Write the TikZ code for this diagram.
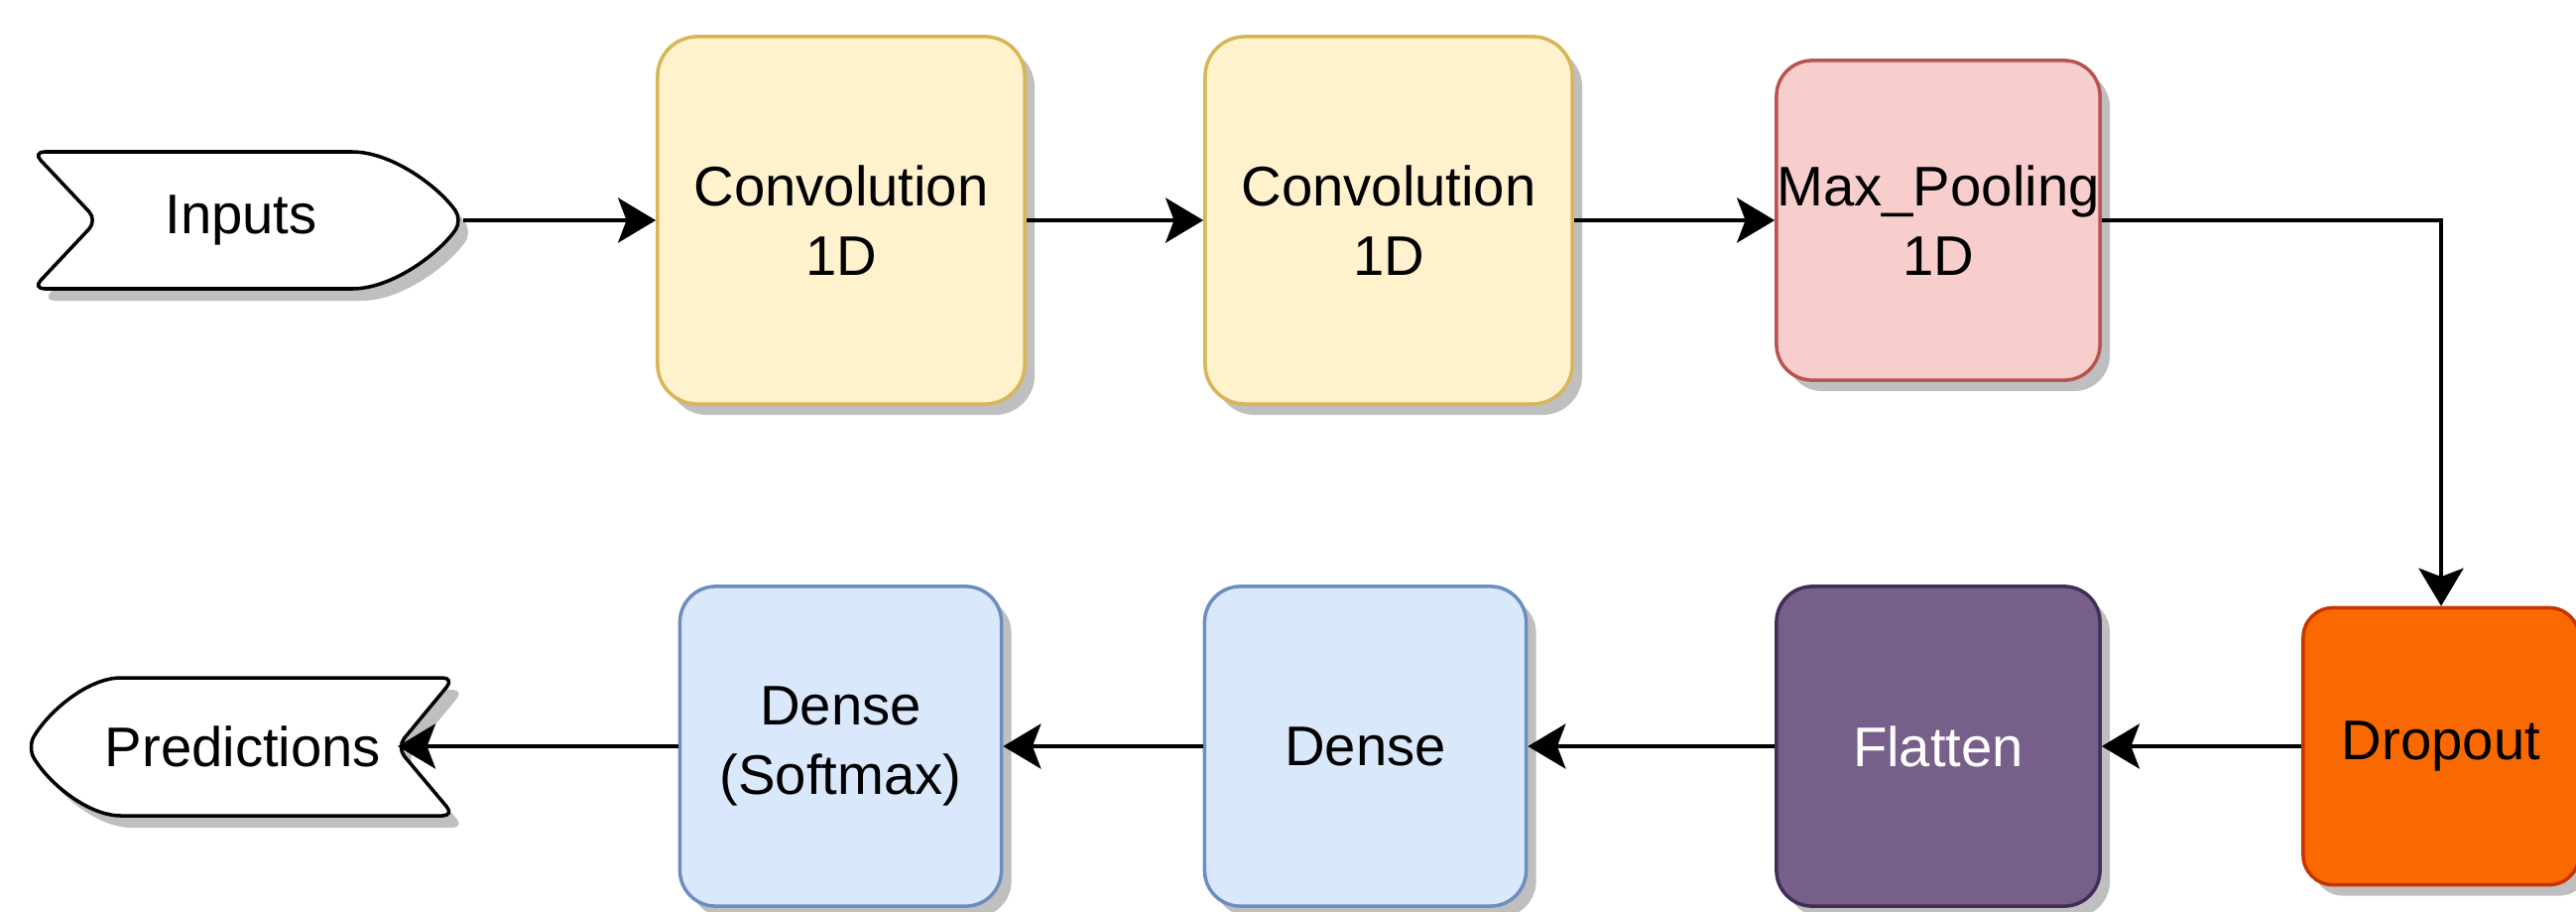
\documentclass[tikz,border=0pt]{standalone}
\usepackage{fontspec}
\setmainfont{Liberation Sans}
\usetikzlibrary{arrows.meta,shadows}
\definecolor{convfill}{HTML}{FFF2CC}
\definecolor{convline}{HTML}{D6B656}
\definecolor{poolfill}{HTML}{F8CECC}
\definecolor{poolline}{HTML}{B85450}
\definecolor{dropfill}{HTML}{FA6800}
\definecolor{dropline}{HTML}{C73500}
\definecolor{flatfill}{HTML}{76608A}
\definecolor{flatline}{HTML}{432D57}
\definecolor{densefill}{HTML}{DAE8FC}
\definecolor{denseline}{HTML}{6C8EBF}
\definecolor{shadowgray}{HTML}{BFBFBF}
\tikzset{
  layer/.style={draw, line width=1.0pt, rounded corners=0.36cm, align=center,
    inner sep=0pt, font=\fontsize{16}{20}\selectfont,
    drop shadow={shadow xshift=0.1cm, shadow yshift=-0.11cm, fill=shadowgray, opacity=1}},
  convbox/.style={layer, fill=convfill, draw=convline, minimum width=3.7cm, minimum height=3.7cm, rounded corners=0.4cm},
  poolbox/.style={layer, fill=poolfill, draw=poolline, minimum width=3.26cm, minimum height=3.22cm},
  flatbox/.style={layer, fill=flatfill, draw=flatline, text=white, minimum width=3.26cm, minimum height=3.22cm},
  densebox/.style={layer, fill=densefill, draw=denseline, minimum width=3.24cm, minimum height=3.22cm},
  dropbox/.style={layer, fill=dropfill, draw=dropline, minimum width=2.78cm, minimum height=2.79cm, rounded corners=0.3cm},
  termtext/.style={inner sep=0pt, font=\fontsize{16}{20}\selectfont},
  termshape/.style={draw, fill=white, line width=1.0pt, rounded corners=0.12cm},
  termshadow/.style={fill=shadowgray, rounded corners=0.12cm},
  conn/.style={line width=1.35pt, -{Stealth[length=10.8pt,width=12.8pt,inset=2.4pt]}},
  inputspath/.style={insert path={(33,153) -- (343,153) .. controls (395,153) and (442,188) .. (466,222)
      .. controls (442,256) and (395,291) .. (343,291) -- (33,291) -- (98,222) -- cycle}},
  predpath/.style={insert path={(400,753) -- (458,683) -- (134,683) .. controls (88,683) and (48,718) .. (28,753)
      .. controls (48,788) and (88,822) .. (134,822) -- (458,822) -- cycle}}
}
\begin{document}
\begin{tikzpicture}[x=0.01cm, y=-0.01cm]
\useasboundingbox (0,0) rectangle (2597,918);
% Inputs shape
\fill[termshadow, shift={(10,12)}, inputspath];
\draw[termshape, inputspath];
\node[termtext] (inputs) at (243,222) {Inputs};
\coordinate (inputsout) at (467,222);
% Predictions shape
\fill[termshadow, shift={(10,12)}, predpath];
\draw[termshape, predpath];
\node[termtext] (pred) at (245,752) {Predictions};
\coordinate (predin) at (401,752);
% layers
\node[convbox] (conv1) at (848,222) {Convolution\\1D};
\node[convbox] (conv2) at (1400,222) {Convolution\\1D};
\node[poolbox] (pool) at (1954,222) {Max\_Pooling\\1D};
\node[dropbox] (drop) at (2461,752) {Dropout};
\node[flatbox] (flat) at (1954,752) {Flatten};
\node[densebox] (dense) at (1376.5,752) {Dense};
\node[densebox] (soft) at (847.5,752) {Dense\\(Softmax)};
% connectors
\draw[conn] (inputsout) -- (conv1.west);
\draw[conn] (conv1.east) -- (conv2.west);
\draw[conn] (conv2.east) -- (pool.west);
\draw[conn] (pool.east) -| (drop.north);
\draw[conn] (drop.west) -- (flat.east);
\draw[conn] (flat.west) -- (dense.east);
\draw[conn] (dense.west) -- (soft.east);
\draw[conn] (soft.west) -- (predin);
\end{tikzpicture}
\end{document}
